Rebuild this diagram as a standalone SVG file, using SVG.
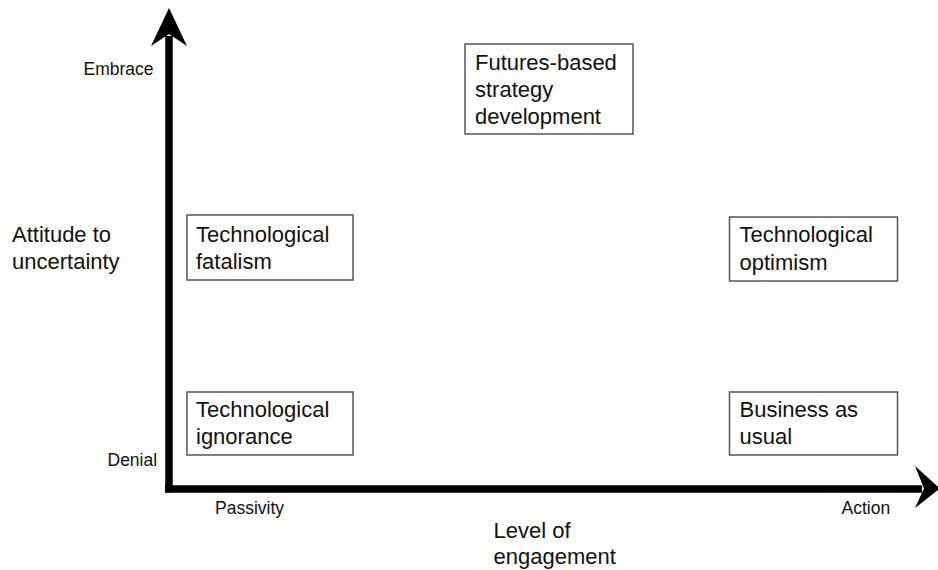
<svg xmlns="http://www.w3.org/2000/svg" width="938" height="570" viewBox="0 0 938 570">
<style>
.box{fill:#fff;stroke:#555;stroke-width:1.5}
.big{font-family:"Liberation Sans",Arial,sans-serif;font-size:22px;fill:#111}
.small{font-family:"Liberation Sans",Arial,sans-serif;font-size:17.5px;fill:#111}
.axis{stroke:#000;stroke-width:7.5;fill:none}
</style>
<rect width="938" height="570" fill="#fff"/>
<g id="connectors">
<line class="axis" x1="169" y1="492.5" x2="169" y2="36"/>
<polygon points="169,8 151,46 169,34 187,46" fill="#000"/>
<line class="axis" x1="165" y1="489" x2="922" y2="489"/>
<polygon points="940,488.5 915,466 924,488.5 915,508" fill="#000"/>
</g>
<g id="axis-labels">
<text class="small" x="83.5" y="75">Embrace</text>
<text class="small" x="107.5" y="466">Denial</text>
<text class="small" x="215" y="514">Passivity</text>
<text class="small" x="841.5" y="514">Action</text>
<text class="big" x="12" y="242">Attitude to</text>
<text class="big" x="12" y="269">uncertainty</text>
<text class="big" x="493.5" y="538">Level of</text>
<text class="big" x="493.5" y="564">engagement</text>
</g>
<g id="futures">
<rect class="box" x="465" y="44" width="168" height="90"/>
<text class="big" x="475" y="70">Futures-based</text>
<text class="big" x="475" y="97">strategy</text>
<text class="big" x="475" y="124">development</text>
</g>
<g id="fatalism">
<rect class="box" x="187" y="215" width="166" height="65"/>
<text class="big" x="196" y="241.5">Technological</text>
<text class="big" x="196" y="269">fatalism</text>
</g>
<g id="ignorance">
<rect class="box" x="187" y="392" width="166" height="63"/>
<text class="big" x="196" y="417">Technological</text>
<text class="big" x="196" y="444">ignorance</text>
</g>
<g id="optimism">
<rect class="box" x="729.5" y="217" width="168" height="64"/>
<text class="big" x="739.5" y="242">Technological</text>
<text class="big" x="739.5" y="269.5">optimism</text>
</g>
<g id="business">
<rect class="box" x="729.5" y="392" width="168" height="63"/>
<text class="big" x="739.5" y="417">Business as</text>
<text class="big" x="739.5" y="444">usual</text>
</g>
</svg>
